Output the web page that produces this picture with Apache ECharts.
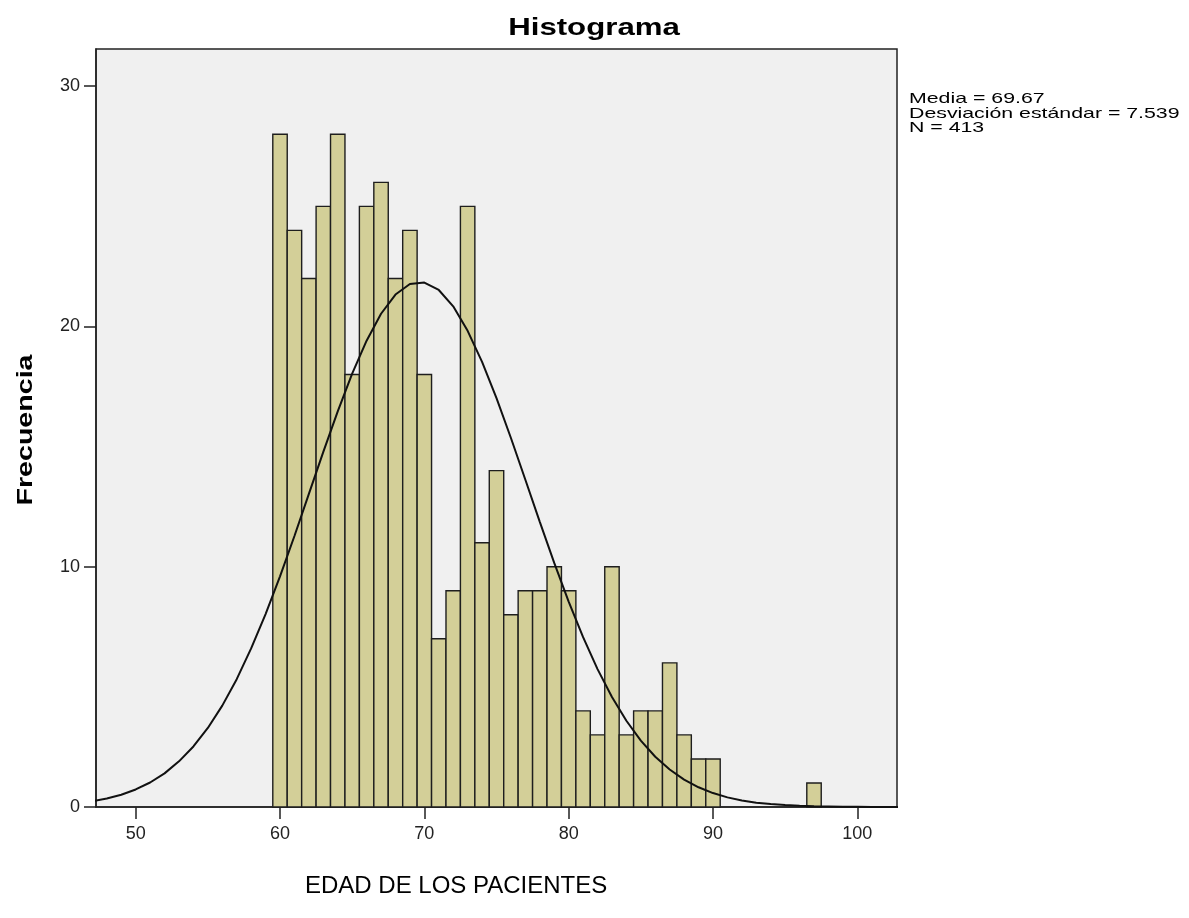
<!DOCTYPE html>
<html>
<head>
<meta charset="utf-8">
<script src="https://cdn.jsdelivr.net/npm/echarts@6/dist/echarts.min.js"></script>
<style>html,body{margin:0;padding:0;background:#fff}#c{width:1189px;height:918px}</style>
</head>
<body>
<div id="c"></div>
<script>
// Histogram bins (age, centred on integer years) and frequencies
const ages = [60,61,62,63,64,65,66,67,68,69,70,71,72,73,74,75,76,77,78,79,80,81,82,83,84,85,86,87,88,89,90,91,92,93,94,95,96,97];
const counts = [28,24,22,25,28,18,25,26,22,24,18,7,9,25,11,14,8,9,9,10,9,4,3,10,3,4,4,6,3,2,2,0,0,0,0,0,0,1];
// Fitted normal curve
const curveX = [47,48,49,50,51,52,53,54,55,56,57,58,59,60,61,62,63,64,65,66,67,68,69,70,71,72,73,74,75,76,77,78,79,80,81,82,83,84,85,86,87,88,89,90,91,92,93,94,95,96,97,98,99,100,101,102,103];
const curveY = [0.24,0.35,0.51,0.73,1.02,1.40,1.90,2.52,3.29,4.22,5.32,6.60,8.03,9.60,11.28,13.03,14.78,16.47,18.04,19.41,20.53,21.33,21.77,21.83,21.52,20.84,19.82,18.53,17.02,15.36,13.62,11.87,10.16,8.55,7.07,5.74,4.58,3.59,2.76,2.09,1.56,1.14,0.82,0.58,0.40,0.27,0.18,0.12,0.08,0.05,0.03,0.02,0.01,0.01,0.004,0.002,0.001];
const xTicks = [50,60,70,80,90,100];
const statsLines = ['Media = 69.67','Desviación estándar = 7.539','N = 413'];
const titleText = 'Histograma';
const xName = 'EDAD DE LOS PACIENTES';
const yName = 'Frecuencia';

const barData = ages.map((a,i)=>[a,counts[i]]).filter(d=>d[1]>0);
const curveData = curveX.map((x,i)=>[x,curveY[i]]);

const chart = echarts.init(document.getElementById('c'), null, {renderer:'canvas'});
const font = 'Arial, "Liberation Sans", sans-serif';

const graphics = [
  {type:'text',x:594,y:28,scaleX:1.3,style:{text:titleText,font:'bold 24px '+font,fill:'#000',textAlign:'center',textVerticalAlign:'middle'}},
  {type:'text',x:26,y:430,rotation:Math.PI/2,scaleX:1.3,style:{text:yName,font:'bold 22px '+font,fill:'#000',textAlign:'center',textVerticalAlign:'middle'}},
  {type:'text',x:305,y:886,style:{text:xName,font:'24px '+font,fill:'#000',textAlign:'left',textVerticalAlign:'middle'}}
];
statsLines.forEach((s,i)=>{
  graphics.push({type:'text',x:909,y:99+i*14.5,scaleX:1.42,style:{text:s,font:'15px '+font,fill:'#000',textAlign:'left',textVerticalAlign:'middle'}});
});

chart.setOption({
  animation:false,
  backgroundColor:'#ffffff',
  grid:{left:96,right:292,top:49,bottom:111,show:true,backgroundColor:'#f0f0f0',borderColor:'#222',borderWidth:1.5},
  xAxis:{
    type:'value',min:47.25,max:102.75,
    axisLine:{show:true,onZero:false,lineStyle:{color:'#222',width:1.5}},
    axisTick:{show:true,inside:false,length:12,customValues:xTicks,lineStyle:{color:'#222',width:1.5}},
    axisLabel:{show:true,customValues:xTicks,margin:18,fontFamily:font,fontSize:18,color:'#222'},
    splitLine:{show:false}
  },
  yAxis:{
    type:'value',min:0,max:31.55,interval:10,
    axisLine:{show:true,lineStyle:{color:'#222',width:1.5}},
    axisTick:{show:true,inside:false,length:12,lineStyle:{color:'#222',width:1.5}},
    axisLabel:{show:true,margin:16,fontFamily:font,fontSize:18,color:'#222',showMaxLabel:false},
    splitLine:{show:false}
  },
  graphic:graphics,
  series:[
    {
      type:'custom',
      data:barData,
      encode:{x:0,y:1},
      renderItem:function(params,api){
        const x=api.value(0), y=api.value(1);
        const p0=api.coord([x-0.5,y]);
        const p1=api.coord([x+0.5,0]);
        return {type:'rect',shape:{x:p0[0],y:p0[1],width:p1[0]-p0[0],height:p1[1]-p0[1]},
          style:{fill:'#d3cf98',stroke:'#1e1e1e',lineWidth:1.4}};
      },
      z:2
    },
    {
      type:'line',data:curveData,smooth:false,showSymbol:false,symbol:'none',clip:true,
      lineStyle:{color:'#111',width:2},z:3
    }
  ]
});
</script>
</body>
</html>
